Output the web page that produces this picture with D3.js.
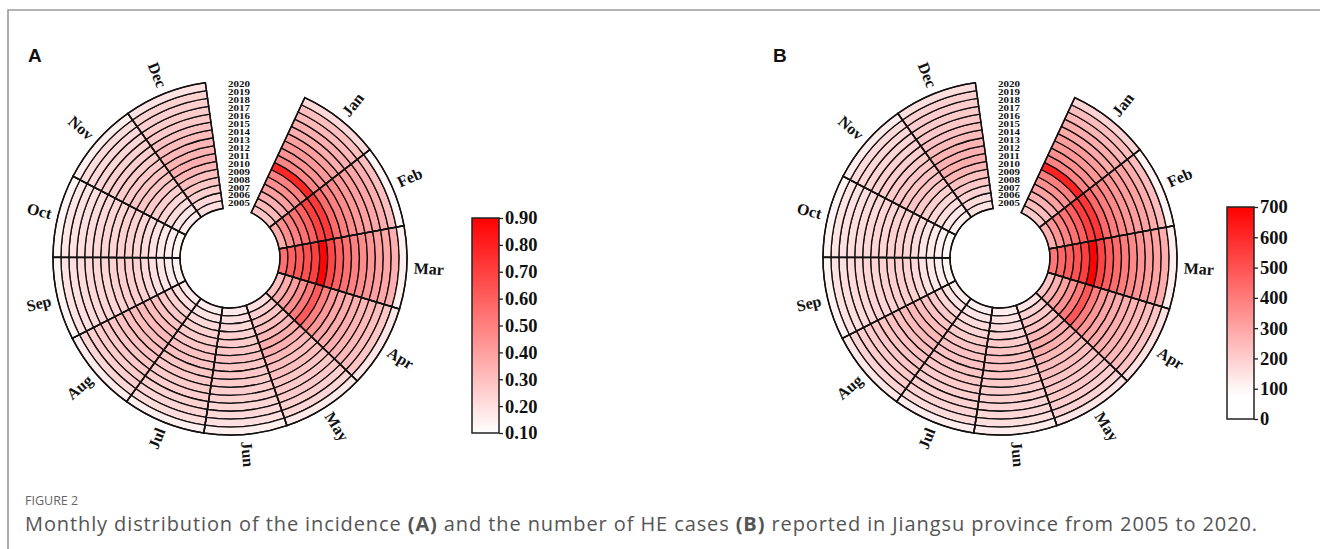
<!DOCTYPE html>
<html><head><meta charset="utf-8">
<script src="https://cdn.jsdelivr.net/npm/d3@7/dist/d3.min.js"></script>
<style>body{margin:0;background:#fff}svg{display:block}</style>
</head><body>
<svg id="c" width="1320" height="549"></svg>
<script>
const months = ["Jan","Feb","Mar","Apr","May","Jun","Jul","Aug","Sep","Oct","Nov","Dec"];
const years = [2005,2006,2007,2008,2009,2010,2011,2012,2013,2014,2015,2016,2017,2018,2019,2020];

// Panel A: incidence (1/100,000), 2005..2020 per month
const incJan = [0.28,0.32,0.35,0.40,0.45,0.50,0.78,0.48,0.44,0.42,0.40,0.36,0.35,0.32,0.30,0.22];
const incFeb = [0.36,0.45,0.50,0.55,0.60,0.70,0.72,0.56,0.50,0.46,0.42,0.40,0.38,0.35,0.30,0.13];
const incMar = [0.55,0.60,0.62,0.65,0.70,0.88,0.68,0.60,0.55,0.50,0.46,0.43,0.40,0.38,0.35,0.15];
const incApr = [0.30,0.36,0.40,0.45,0.52,0.62,0.50,0.42,0.38,0.36,0.35,0.33,0.32,0.30,0.28,0.18];
const incMay = [0.20,0.25,0.28,0.30,0.33,0.36,0.35,0.32,0.30,0.30,0.28,0.27,0.27,0.25,0.23,0.17];
const incJun = [0.17,0.20,0.22,0.24,0.26,0.28,0.29,0.28,0.27,0.26,0.25,0.24,0.23,0.22,0.20,0.15];
const incJul = [0.16,0.19,0.22,0.24,0.26,0.28,0.29,0.29,0.28,0.27,0.26,0.25,0.24,0.23,0.21,0.15];
const incAug = [0.17,0.20,0.24,0.27,0.29,0.31,0.32,0.31,0.30,0.29,0.28,0.27,0.26,0.25,0.23,0.16];
const incSep = [0.14,0.16,0.18,0.20,0.22,0.24,0.25,0.25,0.24,0.23,0.23,0.22,0.21,0.20,0.19,0.13];
const incOct = [0.13,0.15,0.17,0.19,0.21,0.23,0.24,0.24,0.23,0.23,0.22,0.21,0.20,0.19,0.18,0.13];
const incNov = [0.16,0.18,0.21,0.23,0.25,0.27,0.28,0.28,0.27,0.26,0.25,0.24,0.23,0.22,0.21,0.15];
const incDec = [0.20,0.22,0.25,0.28,0.30,0.33,0.35,0.34,0.33,0.31,0.29,0.27,0.26,0.25,0.24,0.19];

// Panel B: number of cases, 2005..2020 per month
const casesJan = [209,242,267,308,351,394,616,380,349,334,319,288,281,258,242,187];
const casesFeb = [269,340,382,424,469,551,569,444,397,366,335,320,305,282,242,110];
const casesMar = [410,453,473,501,547,693,537,475,437,398,367,344,321,306,282,127];
const casesApr = [224,272,305,347,406,488,395,333,302,287,279,264,257,242,226,153];
const casesMay = [149,189,214,231,258,283,277,253,238,239,223,216,217,201,186,144];
const casesJun = [127,151,168,185,203,220,229,222,214,207,200,192,184,177,161,127];
const casesJul = [119,143,168,185,203,220,229,230,222,215,207,200,192,185,169,127];
const casesAug = [127,151,183,208,226,244,253,246,238,231,223,216,209,201,186,136];
const casesSep = [104,121,137,154,172,189,198,198,191,183,184,176,168,161,153,110];
const casesOct = [97,113,130,146,164,181,190,190,183,183,176,168,160,153,145,110];
const casesNov = [119,136,160,177,195,212,221,222,214,207,200,192,184,177,169,127];
const casesDec = [149,166,191,216,234,260,277,269,262,247,231,216,209,201,194,161];

const incTicks = [0.10,0.20,0.30,0.40,0.50,0.60,0.70,0.80,0.90];
const caseTicks = [0,100,200,300,400,500,600,700];

const incByMonth = [incJan,incFeb,incMar,incApr,incMay,incJun,incJul,incAug,incSep,incOct,incNov,incDec];
const casesByMonth = [casesJan,casesFeb,casesMar,casesApr,casesMay,casesJun,casesJul,casesAug,casesSep,casesOct,casesNov,casesDec];

function toCells(byMonth){
  const out=[];
  months.forEach((m,i)=>years.forEach((y,j)=>out.push({month:m,year:y,value:byMonth[i][j]})));
  return out;
}

const svg = d3.select("#c");
svg.append("path").attr("d","M8,549 V10 H1320").attr("fill","none").attr("stroke","#9b9b9b").attr("stroke-width",1.6);

const SERIF = "'Liberation Serif','Times New Roman',serif";
const R0 = 50, R1 = 177;
const A0 = 25*Math.PI/180, A1 = 352*Math.PI/180;

function drawPanel(o){
  const g = svg.append("g").attr("transform",`translate(${o.cx},${o.cy})`);
  const x = d3.scaleBand().domain(months).range([A0,A1]).padding(0);
  const y = d3.scaleBand().domain(years).range([R0,R1]).padding(0);
  const color = d3.scaleLinear().domain(o.colorDomain).range(["#ffffff","#ff0000"]).clamp(true);
  const arc = d3.arc()
    .innerRadius(d=>y(d.year)).outerRadius(d=>y(d.year)+y.bandwidth())
    .startAngle(d=>x(d.month)).endAngle(d=>x(d.month)+x.bandwidth());
  g.selectAll("path.cell").data(o.cells).join("path").attr("class","cell")
    .attr("d",arc).attr("fill",d=>color(d.value))
    .attr("stroke","#111").attr("stroke-width",1.3);
  const sec = d3.arc().innerRadius(R0).outerRadius(R1)
    .startAngle(d=>x(d)).endAngle(d=>x(d)+x.bandwidth());
  g.selectAll("path.sec").data(months).join("path").attr("class","sec")
    .attr("d",sec).attr("fill","none").attr("stroke","#111").attr("stroke-width",1.5);
  // month labels
  const lr = R1+7;
  g.selectAll("text.m").data(months).join("text").attr("class","m")
    .each(function(d){
      const th = (x(d)+x.bandwidth()/2);
      const deg = th*180/Math.PI;
      const px = lr*Math.sin(th), py = -lr*Math.cos(th);
      const flip = deg>180;
      const rot = flip? deg-270 : deg-90;
      d3.select(this).attr("transform",`translate(${px},${py}) rotate(${rot})`)
        .attr("text-anchor",flip?"end":"start");
    })
    .attr("dominant-baseline","central")
    .style("font-family",SERIF).style("font-weight","bold").style("font-size","16px")
    .attr("fill","#111").text(d=>d);
  // year labels (vertically condensed as in the original)
  g.selectAll("text.y").data(years).join("text").attr("class","y")
    .attr("transform",d=>`translate(9,${-(y(d)+y.bandwidth()/2)}) scale(1.05,0.72)`)
    .attr("text-anchor","middle").attr("dominant-baseline","central")
    .style("font-family",SERIF).style("font-weight","bold").style("font-size","10.5px")
    .attr("fill","#111").text(d=>d);
  svg.append("text").attr("x",o.letterX).attr("y",62)
    .style("font-family","'Liberation Sans',Arial,sans-serif").style("font-weight","bold").style("font-size","19px")
    .attr("fill","#111").text(o.letter);
  // colorbar
  const ticks = o.ticks;
  const ly = d3.scaleLinear().domain([ticks[0],ticks[ticks.length-1]]).range([o.lb, o.lt]);
  const gid = "grad"+o.letter;
  const grad = svg.append("defs").append("linearGradient").attr("id",gid)
    .attr("x1","0").attr("y1","1").attr("x2","0").attr("y2","0");
  d3.range(0,1.0001,0.05).forEach(t=>{
    const v = ticks[0]+t*(ticks[ticks.length-1]-ticks[0]);
    grad.append("stop").attr("offset",t).attr("stop-color",color(v));
  });
  svg.append("rect").attr("x",o.lx).attr("y",o.lt).attr("width",o.lw).attr("height",o.lb-o.lt)
    .attr("fill",`url(#${gid})`).attr("stroke","#222").attr("stroke-width",1.5);
  const ax = svg.append("g").attr("transform",`translate(${o.lx+o.lw},0)`)
    .call(d3.axisRight(ly).tickValues(ticks).tickSize(4).tickPadding(2).tickFormat(o.fmt));
  ax.select(".domain").remove();
  ax.selectAll(".tick line").attr("stroke","#222").attr("stroke-width",1.3);
  ax.selectAll(".tick text").style("font-family",SERIF).style("font-weight","bold").style("font-size","18.5px").attr("fill","#111");
}

drawPanel({cx:230,cy:258,cells:toCells(incByMonth),colorDomain:[0.1,0.9],ticks:incTicks,fmt:d3.format(".2f"),
  letter:"A",letterX:28,lx:472,lw:27,lt:218,lb:433});
drawPanel({cx:1000,cy:258,cells:toCells(casesByMonth),colorDomain:[80,700],ticks:caseTicks,fmt:d3.format("d"),
  letter:"B",letterX:773,lx:1227,lw:27,lt:207,lb:419});

svg.append("text").attr("x",25).attr("y",505)
  .style("font-family","'Open Sans',sans-serif").style("font-size","12.5px").attr("fill","#666").text("FIGURE 2");
const cap = svg.append("text").attr("x",25).attr("y",531)
  .style("font-family","'Open Sans',sans-serif").style("font-size","20px").attr("fill","#555");
const capParts = [["Monthly distribution of the incidence ",false],["(A)",true],[" and the number of HE cases ",false],["(B)",true],[" reported in Jiangsu province from 2005 to 2020.",false]];
capParts.forEach(([t,b])=>cap.append("tspan").style("font-weight",b?"bold":"normal").text(t));
const nChars = capParts.map(p=>p[0]).join("").length;
const natural = cap.node().getComputedTextLength();
cap.style("letter-spacing", Math.max(0,(1233-natural)/nChars)+"px");
</script>
</body></html>
